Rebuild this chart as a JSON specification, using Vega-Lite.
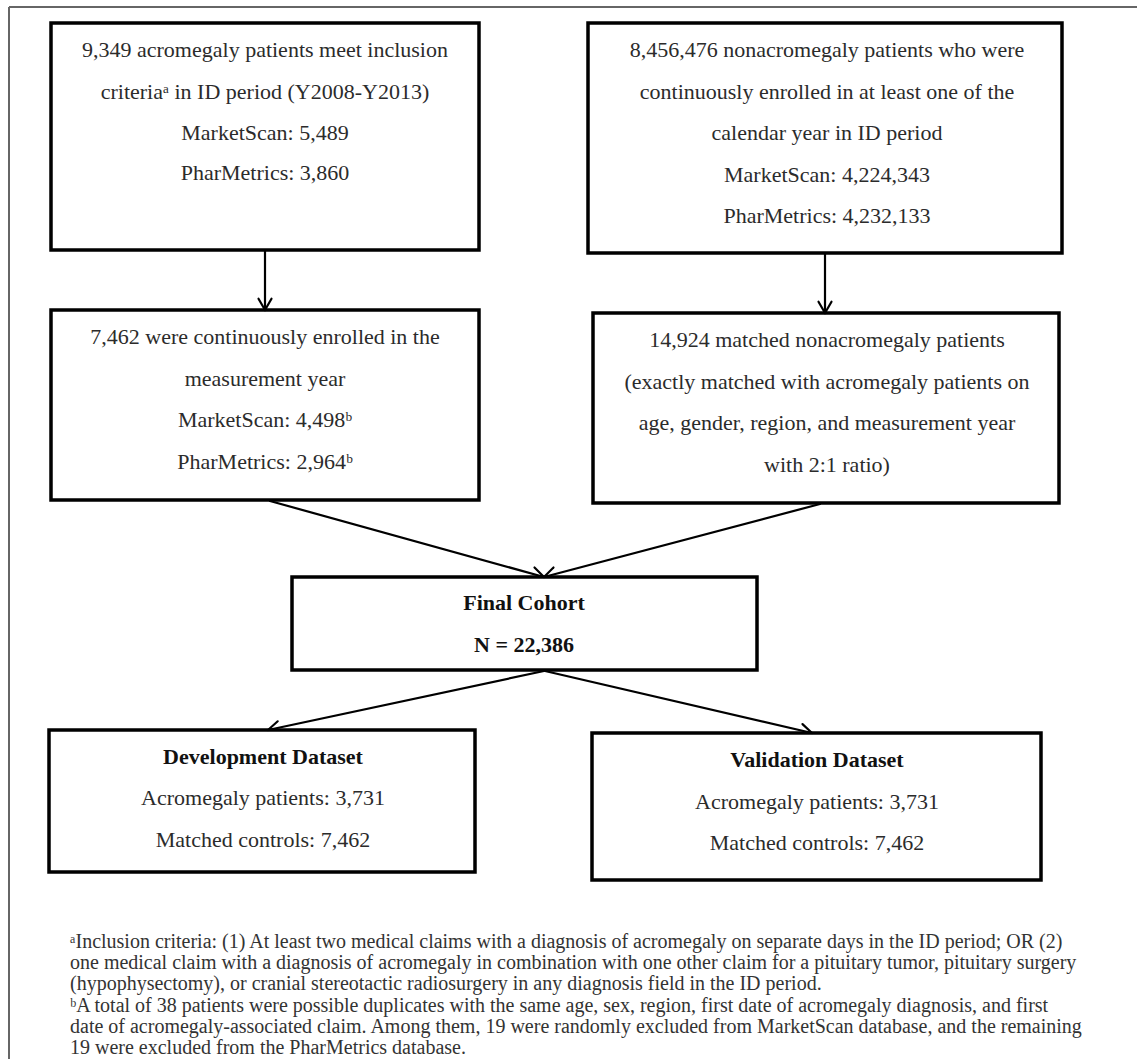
{
  "$schema": "https://vega.github.io/schema/vega-lite/v6.json",
  "width": 1137,
  "height": 1059,
  "autosize": {"type": "none"},
  "padding": 0,
  "background": "white",
  "config": {"view": {"stroke": null}},
  "datasets": {
    "frame": [
      {"x": 9, "y": 7, "x2": 1137, "y2": 7},
      {"x": 9, "y": 7, "x2": 9, "y2": 1059}
    ],
    "boxes": [
      {"box": "acromegaly", "x": 51, "x2": 479, "y": 23, "y2": 250},
      {"box": "nonacromegaly", "x": 588, "x2": 1062, "y": 23, "y2": 253},
      {"box": "enrolled", "x": 51, "x2": 479, "y": 310, "y2": 500},
      {"box": "matched", "x": 593, "x2": 1059, "y": 313, "y2": 503},
      {"box": "final", "x": 292, "x2": 757, "y": 577, "y2": 670},
      {"box": "development", "x": 49, "x2": 475, "y": 730, "y2": 872},
      {"box": "validation", "x": 592, "x2": 1041, "y": 733, "y2": 880}
    ],
    "arrows": [
      {"x": 265, "y": 250, "x2": 265, "y2": 310},
      {"x": 258.5, "y": 298.7, "x2": 265, "y2": 310},
      {"x": 271.5, "y": 298.7, "x2": 265, "y2": 310},
      {"x": 825, "y": 253, "x2": 825, "y2": 313},
      {"x": 818.5, "y": 301.7, "x2": 825, "y2": 313},
      {"x": 831.5, "y": 301.7, "x2": 825, "y2": 313},
      {"x": 270, "y": 501, "x2": 544, "y2": 577},
      {"x": 534.5, "y": 567.5, "x2": 544, "y2": 577},
      {"x": 820, "y": 504, "x2": 544, "y2": 577},
      {"x": 553.5, "y": 567.5, "x2": 544, "y2": 577},
      {"x": 544, "y": 671, "x2": 268, "y2": 730},
      {"x": 277.7, "y": 721.3, "x2": 268, "y2": 730},
      {"x": 545, "y": 671, "x2": 812, "y2": 733},
      {"x": 802.5, "y": 724.1, "x2": 812, "y2": 733}
    ],
    "lines": [
      {"role": "body", "text": "9,349 acromegaly patients meet inclusion", "x": 265, "y": 50},
      {"role": "body", "text": "criteriaᵃ in ID period (Y2008-Y2013)", "x": 265, "y": 92},
      {"role": "body", "text": "MarketScan: 5,489", "x": 265, "y": 133},
      {"role": "body", "text": "PharMetrics: 3,860", "x": 265, "y": 173},
      {"role": "body", "text": "8,456,476 nonacromegaly patients who were", "x": 827, "y": 50},
      {"role": "body", "text": "continuously enrolled in at least one of the", "x": 827, "y": 92},
      {"role": "body", "text": "calendar year in ID period", "x": 827, "y": 133},
      {"role": "body", "text": "MarketScan: 4,224,343", "x": 827, "y": 175},
      {"role": "body", "text": "PharMetrics: 4,232,133", "x": 827, "y": 216},
      {"role": "body", "text": "7,462 were continuously enrolled in the", "x": 265, "y": 337},
      {"role": "body", "text": "measurement year", "x": 265, "y": 379},
      {"role": "body", "text": "MarketScan: 4,498ᵇ", "x": 265, "y": 420},
      {"role": "body", "text": "PharMetrics: 2,964ᵇ", "x": 265, "y": 462},
      {"role": "body", "text": "14,924 matched nonacromegaly patients", "x": 827, "y": 340},
      {"role": "body", "text": "(exactly matched with acromegaly patients on", "x": 827, "y": 382},
      {"role": "body", "text": "age, gender, region, and measurement year", "x": 827, "y": 423},
      {"role": "body", "text": "with 2:1 ratio)", "x": 827, "y": 465},
      {"role": "heading", "text": "Final Cohort", "x": 524, "y": 603},
      {"role": "heading", "text": "N = 22,386", "x": 524, "y": 645},
      {"role": "heading", "text": "Development Dataset", "x": 263, "y": 757},
      {"role": "body", "text": "Acromegaly patients: 3,731", "x": 263, "y": 798},
      {"role": "body", "text": "Matched controls: 7,462", "x": 263, "y": 840},
      {"role": "heading", "text": "Validation Dataset", "x": 817, "y": 760},
      {"role": "body", "text": "Acromegaly patients: 3,731", "x": 817, "y": 802},
      {"role": "body", "text": "Matched controls: 7,462", "x": 817, "y": 843}
    ],
    "notes": [
      {"text": "ᵃInclusion criteria: (1) At least two medical claims with a diagnosis of acromegaly on separate days in the ID period; OR (2)", "x": 70, "y": 942},
      {"text": "one medical claim with a diagnosis of acromegaly in combination with one other claim for a pituitary tumor, pituitary surgery", "x": 70, "y": 963},
      {"text": "(hypophysectomy), or cranial stereotactic radiosurgery in any diagnosis field in the ID period.", "x": 70, "y": 984},
      {"text": "ᵇA total of 38 patients were possible duplicates with the same age, sex, region, first date of acromegaly diagnosis, and first", "x": 70, "y": 1006},
      {"text": "date of acromegaly-associated claim. Among them, 19 were randomly excluded from MarketScan database, and the remaining", "x": 70, "y": 1027},
      {"text": "19 were excluded from the PharMetrics database.", "x": 70, "y": 1048}
    ]
  },
  "encoding": {
    "x": {"field": "x", "type": "quantitative", "scale": {"domain": [0, 1137], "nice": false, "zero": false}, "axis": null},
    "y": {"field": "y", "type": "quantitative", "scale": {"domain": [0, 1059], "nice": false, "zero": false, "reverse": true}, "axis": null}
  },
  "layer": [
    {
      "data": {"name": "frame"},
      "mark": {"type": "rule", "color": "#666666", "strokeWidth": 2},
      "encoding": {"x2": {"field": "x2"}, "y2": {"field": "y2"}}
    },
    {
      "data": {"name": "boxes"},
      "mark": {"type": "rect", "fill": "white", "stroke": "black", "strokeWidth": 3.5},
      "encoding": {"x2": {"field": "x2"}, "y2": {"field": "y2"}}
    },
    {
      "data": {"name": "arrows"},
      "mark": {"type": "rule", "color": "black", "strokeWidth": 2.2, "strokeCap": "round"},
      "encoding": {"x2": {"field": "x2"}, "y2": {"field": "y2"}}
    },
    {
      "data": {"name": "lines"},
      "transform": [{"filter": "datum.role === 'body'"}],
      "mark": {"type": "text", "font": "Liberation Serif", "fontSize": 22, "color": "#2b2b2b", "align": "center", "baseline": "middle"},
      "encoding": {"text": {"field": "text"}}
    },
    {
      "data": {"name": "lines"},
      "transform": [{"filter": "datum.role === 'heading'"}],
      "mark": {"type": "text", "font": "Liberation Serif", "fontSize": 22, "fontWeight": "bold", "color": "#111111", "align": "center", "baseline": "middle"},
      "encoding": {"text": {"field": "text"}}
    },
    {
      "data": {"name": "notes"},
      "mark": {"type": "text", "font": "Liberation Serif", "fontSize": 20, "color": "#333333", "align": "left", "baseline": "middle"},
      "encoding": {"text": {"field": "text"}}
    }
  ]
}
